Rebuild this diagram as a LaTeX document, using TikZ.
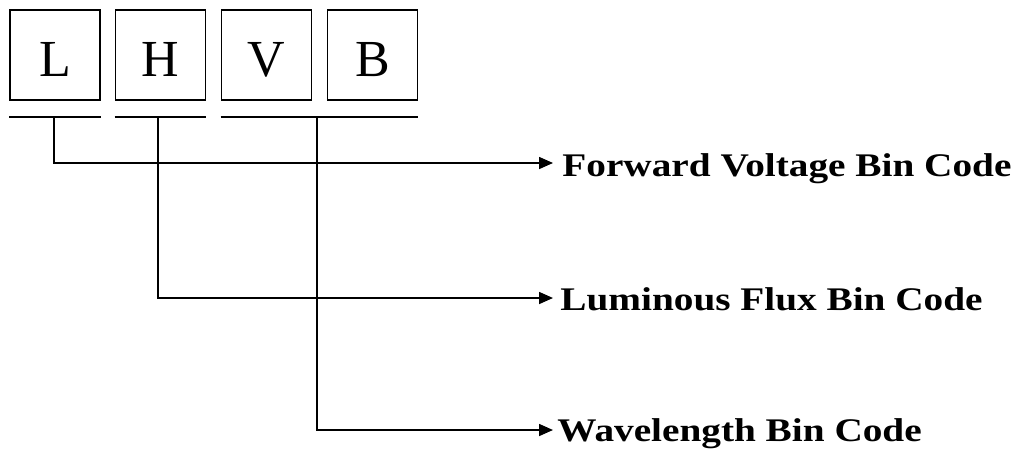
\documentclass[tikz,border=0pt]{standalone}
\usepackage{fontspec}
\setmainfont{Liberation Serif}
\newfontfamily\codefont[FakeStretch=1.19]{Liberation Serif}
\usetikzlibrary{arrows.meta}

\tikzset{
  letter/.style={draw, line width=0.8pt, minimum size=45pt, inner sep=0pt,
    text height=21pt, text depth=0pt,
    font=\fontsize{26}{30}\selectfont},
  bar/.style={line width=0.8pt},
  lead/.style={line width=0.8pt, -{Triangle[length=7pt,width=6pt]}},
  code/.style={anchor=base west, inner sep=0pt,
    font=\codefont\bfseries\fontsize{16.5}{18}\selectfont}
}

\begin{document}
\begin{tikzpicture}[x=0.5pt, y=-0.5pt]
        \useasboundingbox (0,0) rectangle (1021,450);

        \node[letter] (L) at (55, 55) {L};
        \node[letter] (H) at (160.5, 55) {H};
        \node[letter] (V) at (266.5, 55) {V};
        \node[letter] (B) at (372.5, 55) {B};

        \node[code] (fwd) at (562, 176) {Forward Voltage Bin Code};
        \node[code] (flux) at (560, 310) {Luminous Flux Bin Code};
        \node[code] (wave) at (557, 441) {Wavelength Bin Code};

        % bars under the boxes
        \draw[bar] ([yshift=-8pt]L.south west) -- ([yshift=-8pt]L.south east);
        \draw[bar] ([yshift=-8pt]H.south west) -- ([yshift=-8pt]H.south east);
        \draw[bar] ([yshift=-8pt]V.south west) -- ([yshift=-8pt]B.south east);

        \coordinate (Ltap) at (54, 116);
        \coordinate (Htap) at (158, 116);
        \coordinate (Vtap) at (317, 116);

        \draw[lead] (Ltap) |- ([shift={(-9,-13)}]fwd.base west);
        \draw[lead] (Htap) |- ([shift={(-7,-12)}]flux.base west);
        \draw[lead] (Vtap) |- ([shift={(-4,-11)}]wave.base west);
    \end{tikzpicture}
\end{document}
